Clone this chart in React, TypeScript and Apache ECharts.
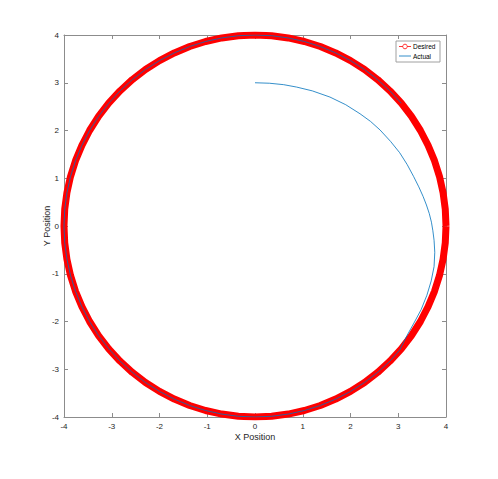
import React, { useEffect, useRef } from "react";
import * as echarts from "echarts";

// Desired trajectory (circle of radius 4), read every 5 degrees
const desiredX = [
  4, 3.985, 3.939, 3.864, 3.759, 3.625, 3.464, 3.277, 3.064, 2.828, 2.571, 2.294, 2.0, 1.69, 1.368, 1.035, 0.695, 0.349, 0,
  -0.349, -0.695, -1.035, -1.368, -1.69, -2.0, -2.294, -2.571, -2.828, -3.064, -3.277, -3.464, -3.625, -3.759, -3.864, -3.939, -3.985, -4,
  -3.985, -3.939, -3.864, -3.759, -3.625, -3.464, -3.277, -3.064, -2.828, -2.571, -2.294, -2.0, -1.69, -1.368, -1.035, -0.695, -0.349, 0,
  0.349, 0.695, 1.035, 1.368, 1.69, 2.0, 2.294, 2.571, 2.828, 3.064, 3.277, 3.464, 3.625, 3.759, 3.864, 3.939, 3.985, 4,
];
const desiredY = [
  0, 0.349, 0.695, 1.035, 1.368, 1.69, 2.0, 2.294, 2.571, 2.828, 3.064, 3.277, 3.464, 3.625, 3.759, 3.864, 3.939, 3.985, 4,
  3.985, 3.939, 3.864, 3.759, 3.625, 3.464, 3.277, 3.064, 2.828, 2.571, 2.294, 2.0, 1.69, 1.368, 1.035, 0.695, 0.349, 0,
  -0.349, -0.695, -1.035, -1.368, -1.69, -2.0, -2.294, -2.571, -2.828, -3.064, -3.277, -3.464, -3.625, -3.759, -3.864, -3.939, -3.985, -4,
  -3.985, -3.939, -3.864, -3.759, -3.625, -3.464, -3.277, -3.064, -2.828, -2.571, -2.294, -2.0, -1.69, -1.368, -1.035, -0.695, -0.349, 0,
];

// Actual trajectory: spiral from (0,3) joining the circle, then following it
const actualX = [
  0, 0.3, 0.6, 0.87, 1.2, 1.57, 1.9, 2.2, 2.42, 2.62, 2.84, 3.03, 3.185, 3.32, 3.43, 3.52, 3.59, 3.65, 3.695, 3.725, 3.75, 3.765, 3.75, 3.69, 3.6, 3.48, 3.33, 3.18, 3.03,
  2.828, 2.571, 2.294, 2.0, 1.69, 1.368, 1.035, 0.695, 0.349, 0,
  -0.349, -0.695, -1.035, -1.368, -1.69, -2.0, -2.294, -2.571, -2.828, -3.064, -3.277, -3.464, -3.625, -3.759, -3.864, -3.939, -3.985, -4,
  -3.985, -3.939, -3.864, -3.759, -3.625, -3.464, -3.277, -3.064, -2.828, -2.571, -2.294, -2.0, -1.69, -1.368, -1.035, -0.695, -0.349, 0,
  0.349, 0.695, 1.035, 1.368, 1.69, 2.0, 2.294, 2.571, 2.828, 3.064,
];
const actualY = [
  3, 2.99, 2.96, 2.91, 2.83, 2.7, 2.54, 2.35, 2.19, 2.01, 1.77, 1.535, 1.29, 1.04, 0.82, 0.62, 0.44, 0.26, 0.08, -0.1, -0.3, -0.55, -0.85, -1.15, -1.45, -1.75, -2.03, -2.3, -2.6,
  -2.828, -3.064, -3.277, -3.464, -3.625, -3.759, -3.864, -3.939, -3.985, -4,
  -3.985, -3.939, -3.864, -3.759, -3.625, -3.464, -3.277, -3.064, -2.828, -2.571, -2.294, -2.0, -1.69, -1.368, -1.035, -0.695, -0.349, 0,
  0.349, 0.695, 1.035, 1.368, 1.69, 2.0, 2.294, 2.571, 2.828, 3.064, 3.277, 3.464, 3.625, 3.759, 3.864, 3.939, 3.985, 4,
  3.985, 3.939, 3.864, 3.759, 3.625, 3.464, 3.277, 3.064, 2.828, 2.571,
];

const tickValues = [-4, -3, -2, -1, 0, 1, 2, 3, 4];
const seriesNames = ["Desired", "Actual"];

const FONT = "Liberation Sans, Arial, sans-serif";
const AXIS_COLOR = "#8c8c8c";
const TEXT_COLOR = "#262626";

export default function App() {
  const ref = useRef<HTMLDivElement>(null);
  useEffect(() => {
    if (!ref.current) return;
    const chart = echarts.init(ref.current, null, { renderer: "svg" });
    const desired = desiredX.map((x, i) => [x, desiredY[i]]);
    const actual = actualX.map((x, i) => [x, actualY[i]]);
    const minV = tickValues[0];
    const maxV = tickValues[tickValues.length - 1];
    const baseAxis = {
      type: "value" as const,
      min: minV,
      max: maxV,
      interval: 1,
      splitLine: { show: false },
      axisLine: { show: true, onZero: false, lineStyle: { color: AXIS_COLOR, width: 1 } },
      axisTick: { show: true, inside: true, length: 4, lineStyle: { color: AXIS_COLOR } },
    };
    chart.setOption({
      animation: false,
      backgroundColor: "#ffffff",
      grid: { left: 64, top: 35, width: 382, height: 382, containLabel: false },
      xAxis: [
        {
          ...baseAxis,
          position: "bottom",
          name: "X Position",
          nameLocation: "middle",
          nameGap: 15,
          nameMoveOverlap: false,
          nameTextStyle: { color: TEXT_COLOR, fontSize: 9, fontFamily: FONT },
          axisLabel: { color: TEXT_COLOR, fontSize: 8, fontFamily: FONT, margin: 5 },
        },
        { ...baseAxis, position: "top", axisLabel: { show: false } },
      ],
      yAxis: [
        {
          ...baseAxis,
          position: "left",
          name: "Y Position",
          nameLocation: "middle",
          nameGap: 13,
          nameMoveOverlap: false,
          nameTextStyle: { color: TEXT_COLOR, fontSize: 9, fontFamily: FONT },
          axisLabel: { color: TEXT_COLOR, fontSize: 8, fontFamily: FONT, margin: 5 },
        },
        { ...baseAxis, position: "right", axisLabel: { show: false } },
      ],
      series: [
        {
          name: seriesNames[0],
          type: "line",
          data: desired,
          showSymbol: false,
          lineStyle: { color: "#ff0000", width: 7 },
          xAxisIndex: 0,
          yAxisIndex: 0,
          z: 2,
        },
        {
          name: seriesNames[1],
          type: "line",
          data: actual,
          showSymbol: false,
          lineStyle: { color: "#0072BD", width: 0.8 },
          xAxisIndex: 0,
          yAxisIndex: 0,
          z: 3,
        },
      ],
      graphic: [
        {
          type: "rect",
          shape: { x: 396, y: 41, width: 44, height: 21 },
          style: { fill: "#ffffff", stroke: "#a0a0a0", lineWidth: 1 },
          z: 10,
        },
        {
          type: "line",
          shape: { x1: 399, y1: 46.5, x2: 411, y2: 46.5 },
          style: { stroke: "#ff0000", lineWidth: 0.8 },
          z: 11,
        },
        {
          type: "circle",
          shape: { cx: 405, cy: 46.5, r: 2.3 },
          style: { stroke: "#ff0000", fill: "#ffffff", lineWidth: 0.8 },
          z: 12,
        },
        {
          type: "line",
          shape: { x1: 399, y1: 56, x2: 411, y2: 56 },
          style: { stroke: "#0072BD", lineWidth: 0.8 },
          z: 11,
        },
        {
          type: "text",
          x: 413,
          y: 46.5,
          style: { text: seriesNames[0], fontSize: 6.5, fontFamily: FONT, fill: "#000", verticalAlign: "middle" },
          z: 12,
        },
        {
          type: "text",
          x: 413,
          y: 56,
          style: { text: seriesNames[1], fontSize: 6.5, fontFamily: FONT, fill: "#000", verticalAlign: "middle" },
          z: 12,
        },
      ],
    });
    return () => chart.dispose();
  }, []);
  return (
    <div
      ref={ref}
      style={{ position: "fixed", left: 0, top: 0, width: 498, height: 479, background: "#fff" }}
    />
  );
}
